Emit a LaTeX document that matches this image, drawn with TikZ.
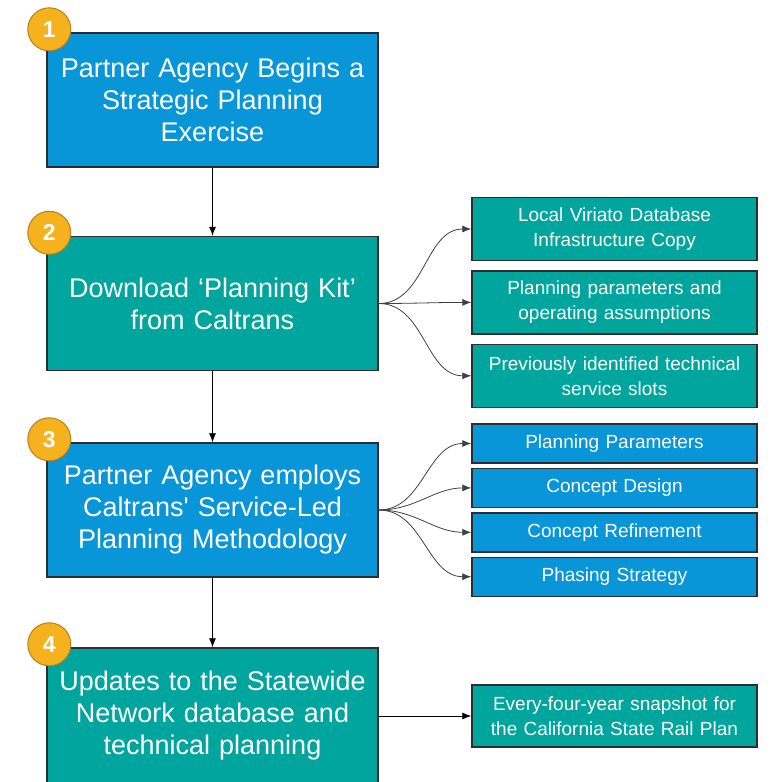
\documentclass[tikz,border=0pt]{standalone}
\usepackage{fontspec}
\setmainfont{Liberation Sans}
\usetikzlibrary{calc,positioning,arrows.meta}
\definecolor{myblue}{RGB}{8,150,216}
\definecolor{myteal}{RGB}{0,166,158}
\definecolor{myorange}{RGB}{245,178,30}
\definecolor{mybrown}{RGB}{185,128,25}
\definecolor{myline}{RGB}{45,45,45}

\begin{document}
\begin{tikzpicture}[x=1pt, y=1pt,
    stage/.style={draw=myline, line width=1.4pt, text=white, inner sep=0pt,
      minimum width=331pt, minimum height=134pt, text width=320pt, align=center,
      font=\fontsize{27}{32}\selectfont},
    item/.style={draw=myline, line width=1.4pt, text=white, inner sep=0pt,
      minimum width=285pt, text width=280pt, align=center,
      font=\fontsize{19}{25}\selectfont},
    badge/.style={circle, draw=mybrown, line width=1pt, fill=myorange, inner sep=0pt,
      minimum size=43pt, text=white, font=\fontsize{23}{23}\selectfont\bfseries},
    link/.style={-{Latex[length=9pt,width=7pt]}, line width=0.8pt, draw=black},
    fan/.style={link, draw=black!75}]
    \useasboundingbox (0,0) rectangle (775,-782);
    \def\D{3}
    % main steps
    \node[stage, fill=myblue] (begin) at (212.5,-100) {Partner Agency Begins a\\
      Strategic Planning\\ Exercise};
    \node[stage, fill=myteal] (kit) at (212.5,-303.5) {Download ‘Planning Kit’\\
      from Caltrans};
    \node[stage, fill=myblue] (method) at (212.5,-510) {Partner Agency employs\\
      Caltrans\textquotesingle\ Service-Led\\ Planning Methodology};
    \node[stage, fill=myteal, minimum height=136pt] (update) at (212.5,-716)
      {Updates to the Statewide\\ Network database and\\ technical planning};
    \foreach \n/\s in {1/begin, 2/kit, 3/method, 4/update}
      \node[badge] (num\n) at ($(\s.north west) + (\D, \D)$) {\n};
    % planning kit contents
    \node[item, fill=myteal, minimum height=63pt] (local) at (614.5,-229)
      {Local Viriato Database\\ Infrastructure Copy};
    \node[item, fill=myteal, minimum height=63pt, below=9pt of local] (params)
      {Planning parameters and\\ operating assumptions};
    \node[item, fill=myteal, minimum height=63pt, below=9pt of params] (slots)
      {Previously identified technical\\ service slots};
    % methodology phases
    \node[item, fill=myblue, minimum height=39pt] (pparam) at (614.5,-443.5)
      {Planning Parameters};
    \node[item, fill=myblue, minimum height=39pt, below=4pt of pparam] (design)
      {Concept Design};
    \node[item, fill=myblue, minimum height=39pt, below=4pt of design] (refine)
      {Concept Refinement};
    \node[item, fill=myblue, minimum height=39pt, below=4pt of refine] (phasing)
      {Phasing Strategy};
    \node[item, fill=myteal, minimum height=62pt] (snapshot) at (614.5,-716)
      {Every-four-year snapshot for\\ the California State Rail Plan};
    % connectors
    \draw[link] (begin) -- (kit);
    \draw[link] (kit) -- (method);
    \draw[link] (method) -- (update);
    \draw[link] (update) -- (snapshot);
    \foreach \t in {local, params, slots}
      \draw[fan] (kit.east) to[out=0, in=180] (\t.west);
    \foreach \t in {pparam, design, refine, phasing}
      \draw[fan] (method.east) to[out=0, in=180] (\t.west);
\end{tikzpicture}
\end{document}
